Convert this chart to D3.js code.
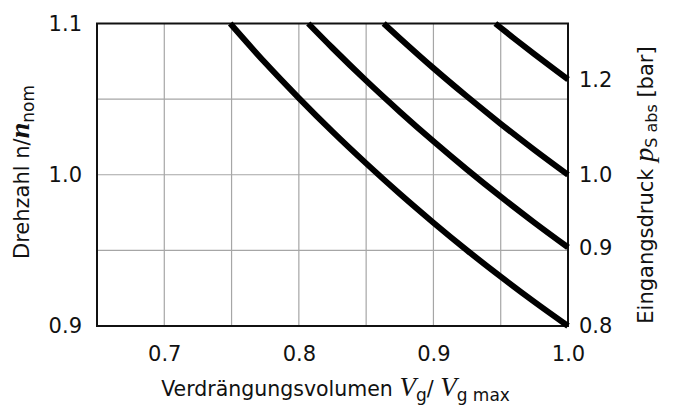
<!DOCTYPE html>
<html>
<head>
<meta charset="utf-8">
<script src="https://cdn.jsdelivr.net/npm/d3@7"></script>
<style>
  body { margin: 0; background: #fff; }
  svg { display: block; }
  text { font-family: "DejaVu Sans", sans-serif; fill: #111; }
  .math { font-family: "Liberation Serif", serif; font-style: italic; }
</style>
</head>
<body>
<script>
// x = Vg / Vg max, y = n / n nom, one curve per inlet pressure
var xTicks = [0.7, 0.8, 0.9, 1.0];
var yTicks = [0.9, 1.0, 1.1];
var pressures = ["0.8", "0.9", "1.0", "1.2"];

var curve08 = [[0.749, 1.1], [0.775, 1.0740], [0.80, 1.0507], [0.825, 1.0285], [0.85, 1.0075],
               [0.875, 0.9874], [0.90, 0.9683], [0.925, 0.9500], [0.95, 0.9326], [0.975, 0.9159], [1.0, 0.9]];
var curve09 = [[0.807, 1.1], [0.825, 1.0838], [0.85, 1.0622], [0.875, 1.0417], [0.90, 1.0221],
               [0.925, 1.0034], [0.95, 0.9855], [0.975, 0.9684], [1.0, 0.952]];
var curve10 = [[0.863, 1.1], [0.875, 1.0903], [0.90, 1.0705], [0.925, 1.0517], [0.95, 1.0337],
               [0.975, 1.0165], [1.0, 1.0]];
var curve12 = [[0.946, 1.1], [0.96, 1.0901], [0.975, 1.0797], [0.99, 1.0696], [1.0, 1.063]];

var curves = [curve08, curve09, curve10, curve12];

var width = 675, height = 412;
var plotLeft = 97, plotRight = 568, plotTop = 23.5, plotBottom = 326;

var x = d3.scaleLinear().domain([0.65, 1.0]).range([plotLeft, plotRight]);
var y = d3.scaleLinear().domain([0.9, 1.1]).range([plotBottom, plotTop]);

var svg = d3.select("body").append("svg")
    .attr("width", width)
    .attr("height", height);

// grid every 0.05
var gridX = d3.range(0.70, 0.999, 0.05);
var gridY = d3.range(0.95, 1.099, 0.05);

svg.append("g")
  .selectAll("line")
  .data(gridX)
  .enter().append("line")
    .attr("x1", d => x(d)).attr("x2", d => x(d))
    .attr("y1", plotTop).attr("y2", plotBottom)
    .attr("stroke", "#a6a6a6")
    .attr("stroke-width", 1.2);

svg.append("g")
  .selectAll("line")
  .data(gridY)
  .enter().append("line")
    .attr("x1", plotLeft).attr("x2", plotRight)
    .attr("y1", d => y(d)).attr("y2", d => y(d))
    .attr("stroke", "#a6a6a6")
    .attr("stroke-width", 1.2);

// frame
svg.append("rect")
    .attr("x", plotLeft).attr("y", plotTop)
    .attr("width", plotRight - plotLeft).attr("height", plotBottom - plotTop)
    .attr("fill", "none")
    .attr("stroke", "#111")
    .attr("stroke-width", 2);

// curves
var line = d3.line()
    .x(d => x(d[0]))
    .y(d => y(d[1]))
    .curve(d3.curveMonotoneX);

svg.append("g")
  .selectAll("path")
  .data(curves)
  .enter().append("path")
    .attr("d", line)
    .attr("fill", "none")
    .attr("stroke", "#000")
    .attr("stroke-width", 6);

// axes
var xAxis = d3.axisBottom(x)
    .tickValues(xTicks)
    .tickSize(0)
    .tickPadding(20)
    .tickFormat(d3.format(".1f"));
svg.append("g")
    .attr("transform", "translate(0," + plotBottom + ")")
    .call(xAxis)
    .call(g => g.select(".domain").remove())
    .selectAll("text")
      .style("font-family", "DejaVu Sans, sans-serif")
      .style("font-size", "21px")
      .attr("fill", "#111");

var yAxis = d3.axisLeft(y)
    .tickValues(yTicks)
    .tickSize(0)
    .tickPadding(15)
    .tickFormat(d3.format(".1f"));
svg.append("g")
    .attr("transform", "translate(" + plotLeft + ",0)")
    .call(yAxis)
    .call(g => g.select(".domain").remove())
    .selectAll("text")
      .style("font-family", "DejaVu Sans, sans-serif")
      .style("font-size", "21px")
      .attr("fill", "#111");

// pressure labels at the curve ends
svg.append("g")
  .selectAll("text")
  .data(curves)
  .enter().append("text")
    .attr("x", plotRight + 11)
    .attr("y", d => y(d[d.length - 1][1]))
    .attr("dy", "0.35em")
    .style("font-size", "21px")
    .text((d, i) => pressures[i]);

// axis titles
var xt = svg.append("text")
    .attr("x", (plotLeft + plotRight) / 2 + 3)
    .attr("y", 396)
    .attr("text-anchor", "middle")
    .style("font-size", "20.5px");
xt.append("tspan").text("Verdrängungsvolumen ");
xt.append("tspan").attr("class", "math").style("font-size", "27px").text("V");
xt.append("tspan").attr("dy", 5).style("font-size", "17px").text("g");
xt.append("tspan").attr("dy", -5).text("/  ");
xt.append("tspan").attr("class", "math").style("font-size", "27px").text("V");
xt.append("tspan").attr("dy", 5).style("font-size", "17px").text("g max");

var yt = svg.append("text")
    .attr("transform", "translate(29,172) rotate(-90)")
    .attr("text-anchor", "middle")
    .style("font-size", "21px");
yt.append("tspan").text("Drehzahl n/");
yt.append("tspan").attr("class", "math").style("font-weight", "bold").style("font-size", "28px").text("n");
yt.append("tspan").attr("dy", 5).style("font-size", "17px").text("nom");

var rt = svg.append("text")
    .attr("transform", "translate(653,185) rotate(-90)")
    .attr("text-anchor", "middle")
    .style("font-size", "21px");
rt.append("tspan").text("Eingangsdruck ");
rt.append("tspan").attr("class", "math").style("font-size", "28px").text("p");
rt.append("tspan").attr("dy", 4).style("font-size", "16px").text("S abs");
rt.append("tspan").attr("dy", -4).text(" [bar]");
</script>
</body>
</html>
